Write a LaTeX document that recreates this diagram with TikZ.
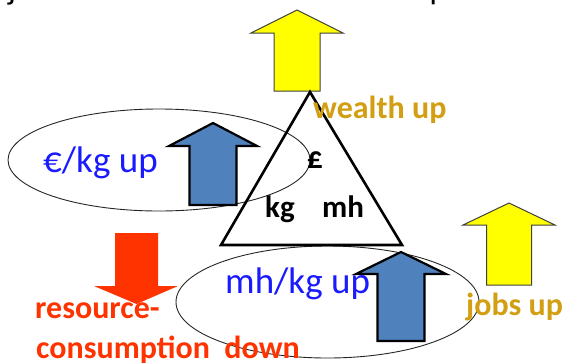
\documentclass[tikz,border=0pt]{standalone}
\usepackage{fontspec}
\setmainfont{Carlito}
\definecolor{gold}{RGB}{210,158,18}
\definecolor{redorange}{RGB}{255,51,0}
\definecolor{txtblue}{RGB}{26,26,255}
\definecolor{arrblue}{RGB}{79,129,189}
\definecolor{yel}{RGB}{255,255,0}
\newcommand{\uparrowshape}[7]{% style, cx, tipY, headhalf, shafthalf, headY, bottomY
  \draw[#1] (#2,#3) -- (#2+#4,#6) -- (#2+#5,#6) -- (#2+#5,#7) -- (#2-#5,#7) -- (#2-#5,#6) -- (#2-#4,#6) -- cycle;}
\begin{document}
\begin{tikzpicture}[x=1pt,y=-1pt,
  lbl/.style={inner sep=0pt,anchor=base west},
  bluetxt/.style={lbl,text=txtblue,font=\fontsize{37}{40}\selectfont},
  goldtxt/.style={lbl,text=gold,font=\fontsize{32}{36}\selectfont\bfseries},
  redtxt/.style={lbl,text=redorange,font=\fontsize{32}{36}\selectfont\bfseries},
  blacktxt/.style={lbl,text=black,font=\fontsize{31}{34}\selectfont\bfseries},
  ell/.style={draw=black!85,line width=0.9pt},
  yarrow/.style={fill=yel,draw=black!75,line width=1pt,line join=miter},
  barrow/.style={fill=arrblue,draw=black,line width=2.2pt,line join=miter},
  rarrow/.style={fill=redorange,draw=none}]
\useasboundingbox (0,0) rectangle (569,362);
\begin{scope}
\clip (0,0) rectangle (569,362);
% title (clipped at top, as in the reference)
\node[lbl,font=\fontsize{33}{36}\selectfont] (title) at (8,-0.5) {jobs from less resource consumption};
% ellipses
\draw[ell] (159,160) ellipse [x radius=151,y radius=51];
\draw[ell] (327.5,302) ellipse [x radius=151.5,y radius=56];
% arrows
\uparrowshape{yarrow}{297}{10}{46}{23}{33}{91}
\uparrowshape{yarrow}{509}{203}{46}{22.5}{225}{285}
\uparrowshape{barrow}{213}{123}{44}{23.5}{146}{205}
\uparrowshape{barrow}{401}{252}{45}{23.5}{274}{341}
\fill[rarrow] (115,233) -- (158,233) -- (158,286) -- (178,286) -- (136.5,304) -- (94,286) -- (115,286) -- cycle;
% triangle
\draw[line width=2.6pt,line join=miter] (310,92) -- (402,245) -- (221,245) -- cycle;
% labels
\node[bluetxt] (eur) at (43,172) {€/kg up};
\node[bluetxt] (mhkg) at (225,293) {mh/kg up};
\node[goldtxt] (wealth) at (313,118) {wealth up};
\node[goldtxt] (jobs) at (466,315) {jobs up};
\node[redtxt] (res1) at (35,318) {resource-};
\node[redtxt] (res2) at (36,358) {consumption\ \ down};
\node[blacktxt] (pound) at (307,168) {£};
\node[blacktxt] (kg) at (265,217) {kg};
\node[blacktxt] (mh) at (322,217) {mh};
\end{scope}
\end{tikzpicture}
\end{document}
